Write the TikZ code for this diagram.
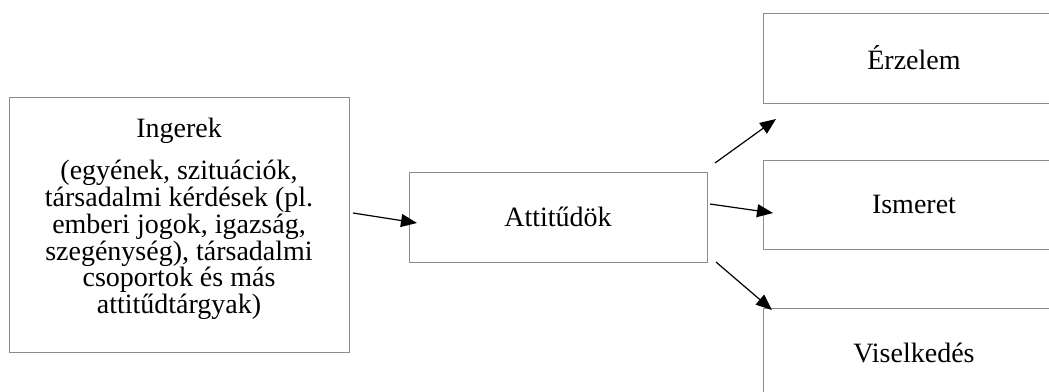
\documentclass[tikz,border=0pt]{standalone}
\usepackage{fontspec}
\setmainfont{Liberation Serif}
\usetikzlibrary{arrows.meta,calc}
\begin{document}
\begin{tikzpicture}[x=1pt,y=-1pt,
  box/.style={draw=black!45,line width=1pt,inner sep=0pt,outer sep=0pt,
    font=\fontsize{28}{26.7}\selectfont},
  conn/.style={line width=1.2pt,-{Triangle[length=16pt,width=13pt]}}]
\useasboundingbox (0,0) rectangle (1049,391);
\clip (0,0) rectangle (1049,391);
\fill[white] (0,0) rectangle (1049,391);
% boxes
\node[box,minimum width=340pt,minimum height=255pt] (ing) at (179,224.5) {};
\node[font=\fontsize{28}{26.7}\selectfont,anchor=base] (ingt) at (179,137) {Ingerek};
\node[font=\fontsize{28}{26.7}\selectfont,align=center,inner sep=0pt] (ingb) at (179,240)
  {(egyének, szituációk,\\ társadalmi kérdések (pl.\\ emberi jogok, igazság,\\ szegénység), társadalmi\\ csoportok és más\\ attitűdtárgyak)};
\node[box,minimum width=298pt,minimum height=90pt] (att) at (558,217) {Attitűdök};
\node[box,minimum width=302pt,minimum height=90pt] (erz) at (914,58) {Érzelem};
\node[box,minimum width=302pt,minimum height=89pt] (ism) at (914,204.5) {Ismeret};
\node[box,minimum width=302pt,minimum height=90pt] (vis) at (914,353) {Viselkedés};
% connector end points
\coordinate (s1) at ($(ing.east)+(4,-11.5)$);
\coordinate (e1) at ($(att.west)+(8,6)$);
\coordinate (s2) at ($(att.north east)+(8,-9)$);
\coordinate (e2) at ($(erz.south west)+(13,16)$);
\coordinate (s3) at ($(att.east)+(3,-13)$);
\coordinate (e3) at ($(ism.west)+(10,8.5)$);
\coordinate (s4) at ($(att.south east)+(9,0)$);
\coordinate (e4) at ($(vis.north west)+(9,2)$);
\draw[conn] (s1) -- (e1);
\draw[conn] (s2) -- (e2);
\draw[conn] (s3) -- (e3);
\draw[conn] (s4) -- (e4);
\end{tikzpicture}
\end{document}
